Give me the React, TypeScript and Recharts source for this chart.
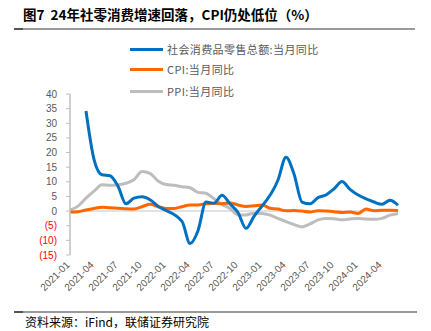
import React from 'react';
import { LineChart, Line, XAxis, YAxis, ReferenceLine } from 'recharts';

const months = [
  '2021-01','2021-02','2021-03','2021-04','2021-05','2021-06','2021-07','2021-08','2021-09','2021-10','2021-11','2021-12',
  '2022-01','2022-02','2022-03','2022-04','2022-05','2022-06','2022-07','2022-08','2022-09','2022-10','2022-11','2022-12',
  '2023-01','2023-02','2023-03','2023-04','2023-05','2023-06','2023-07','2023-08','2023-09','2023-10','2023-11','2023-12',
  '2024-01','2024-02','2024-03','2024-04','2024-05','2024-06',
];

const retail: (number | null)[] = [
  null, null, 34.2, 17.7, 12.4, 12.1, 8.5, 2.5, 4.4, 4.9, 3.9, 1.7,
  null, null, -3.5, -11.1, -6.7, 3.1, 2.7, 5.4, 2.5, -0.5, -5.9, -1.8,
  null, null, 10.6, 18.4, 12.7, 3.1, 2.5, 4.6, 5.5, 7.6, 10.1, 7.4,
  null, null, 3.1, 2.3, 3.7, 2.0,
];

const cpi = [
  -0.3, -0.2, 0.4, 0.9, 1.3, 1.1, 1.0, 0.8, 0.7, 1.5, 2.3, 1.5,
  0.9, 0.9, 1.5, 2.1, 2.1, 2.5, 2.7, 2.5, 2.8, 2.1, 1.6, 1.8,
  2.1, 1.0, 0.7, 0.1, 0.2, 0.0, -0.3, 0.1, 0.0, -0.2, -0.5, -0.3,
  -0.8, 0.7, 0.1, 0.3, 0.3, 0.2,
];

const ppi = [
  0.3, 1.7, 4.4, 6.8, 9.0, 8.8, 9.0, 9.5, 10.7, 13.5, 12.9, 10.3,
  9.1, 8.8, 8.3, 8.0, 6.4, 6.1, 4.2, 2.3, 0.9, -1.3, -1.3, -0.7,
  -0.8, -1.4, -2.5, -3.6, -4.6, -5.4, -4.4, -3.0, -2.5, -2.6, -3.0, -2.7,
  -2.5, -2.7, -2.8, -2.5, -1.4, -0.8,
];

const yTicks = [-15, -10, -5, 0, 5, 10, 15, 20, 25, 30, 35, 40];

const seriesNames = ['社会消费品零售总额:当月同比', 'CPI:当月同比', 'PPI:当月同比'];
const seriesColors = ['#0070C0', '#FF6600', '#BDBDBD'];

const data = months.map((m, i) => ({ month: m, retail: retail[i], cpi: cpi[i], ppi: ppi[i] }));

const YTick = (props: any) => {
  const { x, y, payload } = props;
  const v = payload.value as number;
  const neg = v < 0;
  return (
    <text x={x} y={y} dy={3.5} textAnchor="end" fill={neg ? '#FF0000' : '#595959'} fontSize={10}
      fontFamily="'Liberation Sans', Arial, sans-serif">
      {neg ? `(${-v})` : `${v}`}
    </text>
  );
};

const XTick = (props: any) => {
  const { x, y, payload } = props;
  return (
    <g transform={`translate(${x - 2},${y})`}>
      <text x={0} y={0} dy="0.35em" textAnchor="end" transform="rotate(-45)" fill="#595959" fontSize={10}
        fontFamily="'Liberation Sans', Arial, sans-serif">
        {payload.value}
      </text>
    </g>
  );
};

export default function App() {
  const cjk = "'Noto Sans CJK SC', 'Noto Sans', sans-serif";
  return (
    <div style={{ position: 'absolute', left: 0, top: 0, width: 431, height: 331, background: '#fff', overflow: 'hidden' }}>
      <div style={{ position: 'absolute', left: 23, top: 3, fontFamily: cjk, fontSize: 13.5, fontWeight: 700, color: '#000', whiteSpace: 'pre', lineHeight: '22px' }}>
        {'图7  24年社零消费增速回落，CPI仍处低位（%）'}
      </div>
      <div style={{ position: 'absolute', left: 14, top: 28, width: 401, height: 2, background: '#9a9a9a' }} />
      <div style={{ position: 'absolute', left: 14, top: 28, width: 9, height: 2, background: '#555' }} />

      <div style={{ position: 'absolute', left: 0, top: 0 }}>
        <LineChart width={431} height={331} data={data} margin={{ top: 94, right: 33, bottom: 16, left: 10 }}>
          <XAxis dataKey="month" height={60} axisLine={false} tickLine={false} tickSize={0} tickMargin={8}
            interval={2} tick={<XTick />} />
          <YAxis width={60} domain={[-15, 40]} ticks={yTicks} interval={0} stroke="#BFBFBF" tickSize={4} tickMargin={9}
            tick={<YTick />} axisLine={{ stroke: '#BFBFBF', strokeWidth: 1.5 }} tickLine={{ stroke: '#BFBFBF' }} />
          <ReferenceLine y={0} stroke="#D9D9D9" strokeWidth={1.5} />
          <Line type="monotone" dataKey="ppi" stroke={seriesColors[2]} strokeWidth={3} dot={false} isAnimationActive={false} />
          <Line type="monotone" dataKey="cpi" stroke={seriesColors[1]} strokeWidth={3} dot={false} isAnimationActive={false} />
          <Line type="monotone" dataKey="retail" stroke={seriesColors[0]} strokeWidth={3} dot={false} connectNulls isAnimationActive={false} />
        </LineChart>
      </div>

      {seriesNames.map((name, i) => (
        <div key={name} style={{ position: 'absolute', left: 130, top: [49, 69, 91][i] - 8, height: 16, display: 'flex', alignItems: 'center' }}>
          <div style={{ width: 33, height: 3, background: seriesColors[i] }} />
          <span style={{ marginLeft: 4, fontFamily: cjk, fontSize: 11, letterSpacing: 0.4, color: '#595959', whiteSpace: 'pre' }}>{name}</span>
        </div>
      ))}

      <div style={{ position: 'absolute', left: 14, top: 311, width: 403, height: 2, background: '#9a9a9a' }} />
      <div style={{ position: 'absolute', left: 14, top: 311, width: 9, height: 2, background: '#555' }} />
      <div style={{ position: 'absolute', left: 25, top: 313, fontFamily: cjk, fontSize: 12, color: '#000', whiteSpace: 'pre', lineHeight: '18px' }}>
        资料来源：iFind，联储证券研究院
      </div>
    </div>
  );
}
